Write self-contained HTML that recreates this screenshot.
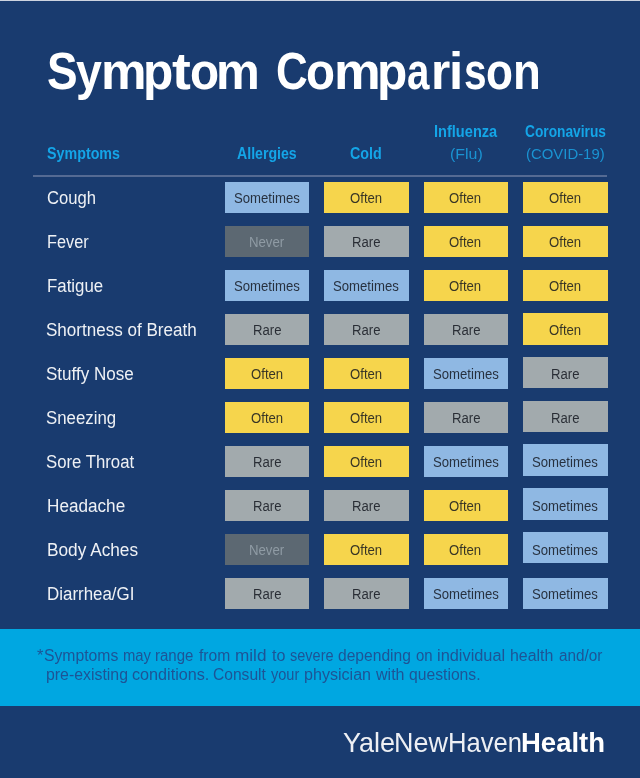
<!DOCTYPE html>
<html><head><meta charset="utf-8"><title>Symptom Comparison</title>
<style>
html,body{margin:0;padding:0;}
body{width:640px;height:778px;background:#193b6f;position:relative;overflow:hidden;font-family:"Liberation Sans",sans-serif;}
.t{position:absolute;white-space:nowrap;transform-origin:0 0;line-height:1;}
.title{color:#fff;}
.g{position:absolute;top:0;transform-origin:0 0;}
.hd{color:#14a5e7;}
.hs{color:#1a93d2;}
.rule{position:absolute;left:33px;width:574px;top:175px;height:1.5px;background:#546a93;}
.sym{color:rgba(255,255,255,0.93);}
.c{position:absolute;height:31.45px;}
.ct{color:rgba(18,22,30,0.84);}
.o{background:#f6d54c;}
.s{background:#8fb8e3;}
.r{background:#a2aaad;}
.n{background:#5c6872;}
.nt{color:#8f9ba4;}
.band{position:absolute;left:0;top:629px;width:640px;height:76.5px;background:#00a7e1;}
.note{color:#1d5496;}
.logo{color:#fff;}
.lt{color:rgba(255,255,255,0.92);}
.topline{position:absolute;left:0;top:0;width:640px;height:1px;background:#cdd4e0;}
</style></head><body>
<div class="topline"></div>

<div class="t title" style="left:0;top:44.98px;font-size:52px;font-weight:bold;"><span class="g" style="left:46.67px;transform:scaleX(0.8829)">S</span><span class="g" style="left:76.38px;transform:scaleX(0.8942)">y</span><span class="g" style="left:100.62px;transform:scaleX(0.9855)">m</span><span class="g" style="left:142.73px;transform:scaleX(0.9539)">p</span><span class="g" style="left:171.82px;transform:scaleX(1.0891)">t</span><span class="g" style="left:189.74px;transform:scaleX(0.9164)">o</span><span class="g" style="left:216.25px;transform:scaleX(0.9476)">m</span></div>
<div class="t title" style="left:0;top:44.98px;font-size:52px;font-weight:bold;"><span class="g" style="left:276.20px;transform:scaleX(0.8454)">C</span><span class="g" style="left:306.15px;transform:scaleX(0.9128)">o</span><span class="g" style="left:333.53px;transform:scaleX(1.0108)">m</span><span class="g" style="left:376.73px;transform:scaleX(0.9539)">p</span><span class="g" style="left:407.33px;transform:scaleX(0.7743)">a</span><span class="g" style="left:430.98px;transform:scaleX(0.9522)">r</span><span class="g" style="left:449.42px;transform:scaleX(0.9826)">i</span><span class="g" style="left:464.33px;transform:scaleX(0.7812)">s</span><span class="g" style="left:486.28px;transform:scaleX(0.8479)">o</span><span class="g" style="left:512.99px;transform:scaleX(0.8759)">n</span></div>
<div class="t hd" style="left:46.59px;top:145.43px;font-size:16.5px;font-weight:bold;transform:scaleX(0.8655);">Symptoms</div>
<div class="t hd" style="left:236.90px;top:145.23px;font-size:16.5px;font-weight:bold;transform:scaleX(0.8563);">Allergies</div>
<div class="t hd" style="left:350.41px;top:145.43px;font-size:16.5px;font-weight:bold;transform:scaleX(0.8668);">Cold</div>
<div class="t hd" style="left:434.02px;top:123.23px;font-size:16.5px;font-weight:bold;transform:scaleX(0.8836);">Influenza</div>
<div class="t hs" style="left:449.51px;top:146.20px;font-size:15px;transform:scaleX(1.0616);">(Flu)</div>
<div class="t hd" style="left:524.94px;top:123.23px;font-size:16.5px;font-weight:bold;transform:scaleX(0.8327);">Coronavirus</div>
<div class="t hs" style="left:526.28px;top:146.20px;font-size:15px;transform:scaleX(0.9934);">(COVID-19)</div>
<div class="rule"></div>
<div class="t sym" style="left:46.55px;top:188.76px;font-size:18px;transform:scaleX(0.9243);">Cough</div>
<div class="c s" style="left:224.7px;top:181.9px;width:84.4px;"></div>
<div class="t ct" style="left:233.80px;top:191.45px;font-size:14px;transform:scaleX(0.9393);">Sometimes</div>
<div class="c o" style="left:323.9px;top:181.9px;width:84.8px;"></div>
<div class="t ct" style="left:349.78px;top:191.45px;font-size:14px;transform:scaleX(0.9395);">Often</div>
<div class="c o" style="left:423.6px;top:181.9px;width:84.7px;"></div>
<div class="t ct" style="left:449.48px;top:191.45px;font-size:14px;transform:scaleX(0.9395);">Often</div>
<div class="c o" style="left:523.1px;top:181.9px;width:84.6px;"></div>
<div class="t ct" style="left:548.98px;top:191.45px;font-size:14px;transform:scaleX(0.9395);">Often</div>
<div class="t sym" style="left:46.67px;top:232.76px;font-size:18px;transform:scaleX(0.9044);">Fever</div>
<div class="c n" style="left:224.7px;top:225.9px;width:84.4px;"></div>
<div class="t nt" style="left:249.02px;top:235.40px;font-size:14px;transform:scaleX(0.9429);">Never</div>
<div class="c r" style="left:323.9px;top:225.9px;width:84.8px;"></div>
<div class="t ct" style="left:351.97px;top:235.40px;font-size:14px;transform:scaleX(0.9379);">Rare</div>
<div class="c o" style="left:423.6px;top:225.9px;width:84.7px;"></div>
<div class="t ct" style="left:449.48px;top:235.40px;font-size:14px;transform:scaleX(0.9395);">Often</div>
<div class="c o" style="left:523.1px;top:225.9px;width:84.6px;"></div>
<div class="t ct" style="left:548.98px;top:235.40px;font-size:14px;transform:scaleX(0.9395);">Often</div>
<div class="t sym" style="left:46.62px;top:276.76px;font-size:18px;transform:scaleX(0.9349);">Fatigue</div>
<div class="c s" style="left:224.7px;top:269.9px;width:84.4px;"></div>
<div class="t ct" style="left:233.80px;top:279.35px;font-size:14px;transform:scaleX(0.9393);">Sometimes</div>
<div class="c s" style="left:323.9px;top:269.9px;width:84.8px;"></div>
<div class="t ct" style="left:333.00px;top:279.35px;font-size:14px;transform:scaleX(0.9393);">Sometimes</div>
<div class="c o" style="left:423.6px;top:269.9px;width:84.7px;"></div>
<div class="t ct" style="left:449.48px;top:279.35px;font-size:14px;transform:scaleX(0.9395);">Often</div>
<div class="c o" style="left:523.1px;top:269.6px;width:84.6px;"></div>
<div class="t ct" style="left:548.98px;top:279.35px;font-size:14px;transform:scaleX(0.9395);">Often</div>
<div class="t sym" style="left:45.97px;top:320.76px;font-size:18px;transform:scaleX(0.9469);">Shortness of Breath</div>
<div class="c r" style="left:224.7px;top:313.9px;width:84.4px;"></div>
<div class="t ct" style="left:252.77px;top:323.30px;font-size:14px;transform:scaleX(0.9379);">Rare</div>
<div class="c r" style="left:323.9px;top:313.9px;width:84.8px;"></div>
<div class="t ct" style="left:351.97px;top:323.30px;font-size:14px;transform:scaleX(0.9379);">Rare</div>
<div class="c r" style="left:423.6px;top:313.9px;width:84.7px;"></div>
<div class="t ct" style="left:451.67px;top:323.30px;font-size:14px;transform:scaleX(0.9379);">Rare</div>
<div class="c o" style="left:523.1px;top:313.1px;width:84.6px;"></div>
<div class="t ct" style="left:548.98px;top:323.30px;font-size:14px;transform:scaleX(0.9395);">Often</div>
<div class="t sym" style="left:45.97px;top:364.76px;font-size:18px;transform:scaleX(0.9468);">Stuffy Nose</div>
<div class="c o" style="left:224.7px;top:357.9px;width:84.4px;"></div>
<div class="t ct" style="left:250.58px;top:367.25px;font-size:14px;transform:scaleX(0.9395);">Often</div>
<div class="c o" style="left:323.9px;top:357.9px;width:84.8px;"></div>
<div class="t ct" style="left:349.78px;top:367.25px;font-size:14px;transform:scaleX(0.9395);">Often</div>
<div class="c s" style="left:423.6px;top:357.9px;width:84.7px;"></div>
<div class="t ct" style="left:432.70px;top:367.25px;font-size:14px;transform:scaleX(0.9393);">Sometimes</div>
<div class="c r" style="left:523.1px;top:356.6px;width:84.6px;"></div>
<div class="t ct" style="left:551.17px;top:367.25px;font-size:14px;transform:scaleX(0.9379);">Rare</div>
<div class="t sym" style="left:45.98px;top:408.76px;font-size:18px;transform:scaleX(0.9339);">Sneezing</div>
<div class="c o" style="left:224.7px;top:401.9px;width:84.4px;"></div>
<div class="t ct" style="left:250.58px;top:411.20px;font-size:14px;transform:scaleX(0.9395);">Often</div>
<div class="c o" style="left:323.9px;top:401.9px;width:84.8px;"></div>
<div class="t ct" style="left:349.78px;top:411.20px;font-size:14px;transform:scaleX(0.9395);">Often</div>
<div class="c r" style="left:423.6px;top:401.9px;width:84.7px;"></div>
<div class="t ct" style="left:451.67px;top:411.20px;font-size:14px;transform:scaleX(0.9379);">Rare</div>
<div class="c r" style="left:523.1px;top:400.6px;width:84.6px;"></div>
<div class="t ct" style="left:551.17px;top:411.20px;font-size:14px;transform:scaleX(0.9379);">Rare</div>
<div class="t sym" style="left:45.98px;top:452.76px;font-size:18px;transform:scaleX(0.9305);">Sore Throat</div>
<div class="c r" style="left:224.7px;top:445.9px;width:84.4px;"></div>
<div class="t ct" style="left:252.77px;top:455.15px;font-size:14px;transform:scaleX(0.9379);">Rare</div>
<div class="c o" style="left:323.9px;top:445.9px;width:84.8px;"></div>
<div class="t ct" style="left:349.78px;top:455.15px;font-size:14px;transform:scaleX(0.9395);">Often</div>
<div class="c s" style="left:423.6px;top:445.9px;width:84.7px;"></div>
<div class="t ct" style="left:432.70px;top:455.15px;font-size:14px;transform:scaleX(0.9393);">Sometimes</div>
<div class="c s" style="left:523.1px;top:444.4px;width:84.6px;"></div>
<div class="t ct" style="left:532.20px;top:455.15px;font-size:14px;transform:scaleX(0.9393);">Sometimes</div>
<div class="t sym" style="left:46.59px;top:496.76px;font-size:18px;transform:scaleX(0.9525);">Headache</div>
<div class="c r" style="left:224.7px;top:489.9px;width:84.4px;"></div>
<div class="t ct" style="left:252.77px;top:499.10px;font-size:14px;transform:scaleX(0.9379);">Rare</div>
<div class="c r" style="left:323.9px;top:489.9px;width:84.8px;"></div>
<div class="t ct" style="left:351.97px;top:499.10px;font-size:14px;transform:scaleX(0.9379);">Rare</div>
<div class="c o" style="left:423.6px;top:489.9px;width:84.7px;"></div>
<div class="t ct" style="left:449.48px;top:499.10px;font-size:14px;transform:scaleX(0.9395);">Often</div>
<div class="c s" style="left:523.1px;top:488.3px;width:84.6px;"></div>
<div class="t ct" style="left:532.20px;top:499.10px;font-size:14px;transform:scaleX(0.9393);">Sometimes</div>
<div class="t sym" style="left:46.59px;top:540.76px;font-size:18px;transform:scaleX(0.9577);">Body Aches</div>
<div class="c n" style="left:224.7px;top:533.9px;width:84.4px;"></div>
<div class="t nt" style="left:249.02px;top:543.05px;font-size:14px;transform:scaleX(0.9429);">Never</div>
<div class="c o" style="left:323.9px;top:533.9px;width:84.8px;"></div>
<div class="t ct" style="left:349.78px;top:543.05px;font-size:14px;transform:scaleX(0.9395);">Often</div>
<div class="c o" style="left:423.6px;top:533.9px;width:84.7px;"></div>
<div class="t ct" style="left:449.48px;top:543.05px;font-size:14px;transform:scaleX(0.9395);">Often</div>
<div class="c s" style="left:523.1px;top:532.0px;width:84.6px;"></div>
<div class="t ct" style="left:532.20px;top:543.05px;font-size:14px;transform:scaleX(0.9393);">Sometimes</div>
<div class="t sym" style="left:46.61px;top:584.76px;font-size:18px;transform:scaleX(0.9398);">Diarrhea/GI</div>
<div class="c r" style="left:224.7px;top:577.9px;width:84.4px;"></div>
<div class="t ct" style="left:252.77px;top:587.00px;font-size:14px;transform:scaleX(0.9379);">Rare</div>
<div class="c r" style="left:323.9px;top:577.9px;width:84.8px;"></div>
<div class="t ct" style="left:351.97px;top:587.00px;font-size:14px;transform:scaleX(0.9379);">Rare</div>
<div class="c s" style="left:423.6px;top:577.9px;width:84.7px;"></div>
<div class="t ct" style="left:432.70px;top:587.00px;font-size:14px;transform:scaleX(0.9393);">Sometimes</div>
<div class="c s" style="left:523.1px;top:577.9px;width:84.6px;"></div>
<div class="t ct" style="left:532.20px;top:587.00px;font-size:14px;transform:scaleX(0.9393);">Sometimes</div>
<div class="band"></div>
<div class="t note" style="left:36.84px;top:647.83px;font-size:15.8px;transform:scaleX(1.0460);">*</div>
<div class="t note" style="left:43.98px;top:647.83px;font-size:15.8px;transform:scaleX(0.9962);">Symptoms</div>
<div class="t note" style="left:122.52px;top:647.83px;font-size:15.8px;transform:scaleX(0.9384);">may</div>
<div class="t note" style="left:155.26px;top:647.83px;font-size:15.8px;transform:scaleX(0.9505);">range</div>
<div class="t note" style="left:199.28px;top:647.83px;font-size:15.8px;transform:scaleX(0.9889);">from</div>
<div class="t note" style="left:235.12px;top:647.83px;font-size:15.8px;transform:scaleX(1.0871);">mild</div>
<div class="t note" style="left:272.26px;top:647.83px;font-size:15.8px;transform:scaleX(1.0182);">to</div>
<div class="t note" style="left:289.59px;top:647.83px;font-size:15.8px;transform:scaleX(0.9184);">severe</div>
<div class="t note" style="left:338.09px;top:647.83px;font-size:15.8px;transform:scaleX(0.9878);">depending</div>
<div class="t note" style="left:415.62px;top:647.83px;font-size:15.8px;transform:scaleX(0.9446);">on</div>
<div class="t note" style="left:437.40px;top:647.83px;font-size:15.8px;transform:scaleX(1.0352);">individual</div>
<div class="t note" style="left:510.15px;top:647.83px;font-size:15.8px;transform:scaleX(1.0080);">health</div>
<div class="t note" style="left:558.86px;top:647.83px;font-size:15.8px;transform:scaleX(0.9690);">and/or</div>
<div class="t note" style="left:45.98px;top:667.13px;font-size:15.8px;transform:scaleX(1.0044);">pre-existing</div>
<div class="t note" style="left:131.62px;top:667.13px;font-size:15.8px;transform:scaleX(1.0240);">conditions.</div>
<div class="t note" style="left:213.20px;top:667.13px;font-size:15.8px;transform:scaleX(0.9874);">Consult</div>
<div class="t note" style="left:270.96px;top:667.13px;font-size:15.8px;transform:scaleX(0.9206);">your</div>
<div class="t note" style="left:303.97px;top:667.13px;font-size:15.8px;transform:scaleX(1.0183);">physician</div>
<div class="t note" style="left:376.27px;top:667.13px;font-size:15.8px;transform:scaleX(1.0155);">with</div>
<div class="t note" style="left:409.34px;top:667.13px;font-size:15.8px;transform:scaleX(0.9938);">questions.</div>
<div class="t lt" style="left:343.11px;top:728.74px;font-size:27.6px;transform:scaleX(0.9793);">Yale</div>
<div class="t lt" style="left:393.79px;top:728.74px;font-size:27.6px;transform:scaleX(0.9766);">New</div>
<div class="t lt" style="left:447.65px;top:728.74px;font-size:27.6px;transform:scaleX(0.9279);">Haven</div>
<div class="t logo" style="left:520.66px;top:728.57px;font-size:27.8px;font-weight:bold;transform:scaleX(0.9893);">Health</div>
</body></html>
